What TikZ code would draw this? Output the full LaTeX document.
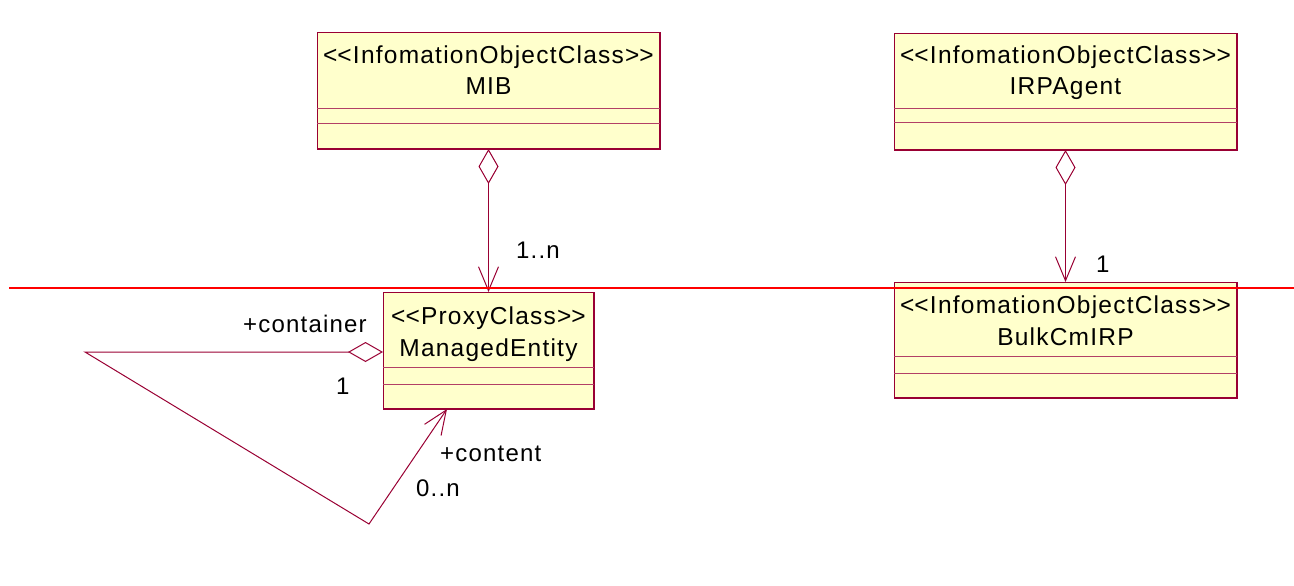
\documentclass[tikz,border=0pt]{standalone}
\usepackage{fontspec}
\setmainfont{Liberation Sans}[LetterSpace=5]
\usetikzlibrary{arrows.meta}
\definecolor{umlred}{RGB}{153,0,51}
\definecolor{umlfill}{RGB}{255,255,204}
\newcommand\stl{<\kern0pt<}
\newcommand\stg{>\kern0pt>}
\newcommand\boxedge[1]{\draw[edgeline] (#1.north east) -- (#1.south east) -- (#1.south west);}
\newcommand\compart[3]{%
  \draw[compline] ([yshift=-#2pt]#1.north west) -- ([yshift=-#2pt]#1.north east);
  \draw[compline] ([yshift=-#3pt]#1.north west) -- ([yshift=-#3pt]#1.north east);}
\begin{document}
\begin{tikzpicture}[x=1pt,y=-1pt,
  classbox/.style={draw=umlred, fill=umlfill, line width=1pt, anchor=north west,
    minimum width=343pt, minimum height=116pt, inner sep=0pt, outer sep=0pt},
  smallbox/.style={classbox, minimum width=211pt, minimum height=117pt},
  edgeline/.style={draw=umlred, line width=2pt},
  compline/.style={draw=umlred!75, line width=1pt},
  ctext/.style={font=\fontsize{24.5}{28}\selectfont, inner sep=0pt, anchor=base},
  lbl/.style={font=\fontsize{24}{28}\selectfont, inner sep=0pt, anchor=base west},
  conn/.style={draw=umlred, line width=1pt},
  aggarrow/.style={{Diamond[open,length=35pt,width=20pt]}-{Straight Barb[length=24pt,width=20pt]}},
  redline/.style={draw=red, line width=1.8pt}
]
\useasboundingbox (0,0) rectangle (1294,586);

% class boxes
\node[classbox] (mib) at (317,33) {};
\node[classbox] (irp) at (894,34) {};
\node[classbox] (bulk) at (894,282) {};
\node[smallbox] (me) at (383,292) {};
\boxedge{mib}\boxedge{irp}\boxedge{bulk}\boxedge{me}
\compart{mib}{75}{90}
\compart{irp}{74}{88}
\compart{bulk}{74}{91}
\compart{me}{75}{92}

% class texts
\node[ctext] (mibs) at ([yshift=-30.5pt]mib.north) {\stl InfomationObjectClass\stg};
\node[ctext] (mibn) at ([yshift=-61.5pt]mib.north) {MIB};
\node[ctext] (irps) at ([yshift=-30pt]irp.north) {\stl InfomationObjectClass\stg};
\node[ctext] (irpn) at ([yshift=-61pt]irp.north) {IRPAgent};
\node[ctext] (bulks) at ([yshift=-31pt]bulk.north) {\stl InfomationObjectClass\stg};
\node[ctext] (bulkn) at ([yshift=-63pt]bulk.north) {BulkCmIRP};
\node[ctext] (mes) at ([yshift=-32.5pt]me.north) {\stl ProxyClass\stg};
\node[ctext] (men) at ([yshift=-64pt]me.north) {ManagedEntity};

% connectors
\draw[conn, aggarrow] (mib.south) -- (mib.south |- me.north);
\draw[conn, aggarrow] (irp.south) -- (bulk.north);
\coordinate (sa) at (85,352);
\coordinate (sb) at (369,524);
\draw[conn, aggarrow] (me.west |- sa) -- (sa) -- (sb) -- ([xshift=64pt]me.south west);

% labels
\node[lbl] (l1) at (516,258) {1..n};
\node[lbl] (l2) at (1096,272) {1};
\node[lbl] (l3) at (243,332) {+container};
\node[lbl] (l4) at (336,394) {1};
\node[lbl] (l5) at (440,461) {+content};
\node[lbl] (l6) at (416,496) {0..n};

% red horizontal line
\coordinate (rl) at (9,288);
\coordinate (rr) at (1294,288);
\draw[redline] (rl) -- (rr);
\end{tikzpicture}
\end{document}
